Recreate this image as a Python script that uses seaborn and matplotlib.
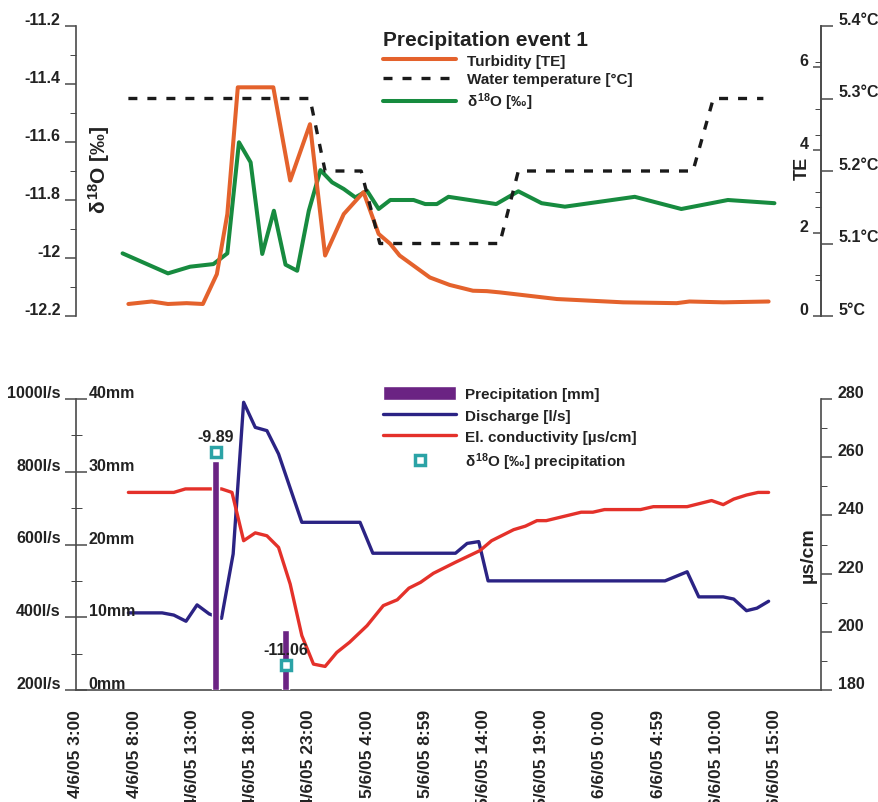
import numpy as np
import pandas as pd
import matplotlib
matplotlib.use('Agg')
import matplotlib.pyplot as plt
import seaborn as sns
from matplotlib.lines import Line2D
from matplotlib.patches import Patch
from matplotlib.ticker import FixedLocator, FixedFormatter
from matplotlib.transforms import ScaledTranslation

# time axis: hours since 4/6/05 3:00
x_ticks = [0, 5, 10, 15, 20, 25, 30, 35, 40, 45, 50, 55, 60]
x_minor = [2.5, 7.5, 12.5, 17.5, 22.5, 27.5, 32.5, 37.5, 42.5, 47.5, 52.5, 57.5, 62.5]
x_labels = ['4/6/05 3:00', '4/6/05 8:00', '4/6/05 13:00', '4/6/05 18:00',
            '4/6/05 23:00', '5/6/05 4:00', '5/6/05 8:59', '5/6/05 14:00',
            '5/6/05 19:00', '6/6/05 0:00', '6/6/05 4:59', '6/6/05 10:00',
            '6/6/05 15:00']

# top panel
turb_t = [4.5, 6.5, 7.9, 9.5, 10.9, 12.1, 13.0, 13.9, 16.95, 18.4, 20.1, 21.4,
          23.0, 24.7, 26.0, 27.0, 27.8, 30.4, 32.1, 34.1, 35.3, 36.4, 41.3,
          47.0, 51.6, 52.7, 55.6, 59.5]
turb = [0.29, 0.35, 0.29, 0.31, 0.29, 1.01, 2.46, 5.52, 5.52, 3.27, 4.63, 1.46,
        2.46, 2.99, 1.98, 1.74, 1.46, 0.93, 0.75, 0.61, 0.60, 0.57, 0.41,
        0.33, 0.31, 0.35, 0.33, 0.35]

temp_t = [4.5, 20.1, 21.4, 24.5, 26.1, 36.4, 38.0, 53.0, 54.75, 59.05]
temp = [5.3, 5.3, 5.2, 5.2, 5.1, 5.1, 5.2, 5.2, 5.3, 5.3]

d18_t = [4, 7.9, 9.8, 11.8, 13, 14, 15, 16, 17, 18, 19, 20, 21, 22, 23, 24, 25,
         26, 27, 29, 30, 31, 32, 36.1, 38, 40, 42, 48, 52, 56, 60]
d18 = [-11.984, -12.053, -12.030, -12.021, -11.984, -11.601, -11.670, -11.986,
       -11.837, -12.023, -12.044, -11.837, -11.697, -11.739, -11.762, -11.791,
       -11.768, -11.831, -11.800, -11.800, -11.814, -11.814, -11.789, -11.814,
       -11.770, -11.811, -11.823, -11.789, -11.831, -11.800, -11.811]

d18_ticks = [-12.2, -12, -11.8, -11.6, -11.4, -11.2]
d18_labels = ['-12.2', '-12', '-11.8', '-11.6', '-11.4', '-11.2']
te_ticks = [0, 2, 4, 6]
temp_ticks = [5.0, 5.1, 5.2, 5.3, 5.4]
temp_labels = ['5°C', '5.1°C', '5.2°C', '5.3°C', '5.4°C']

# bottom panel
q_t = [4.5, 7.4, 8.4, 9.45, 10.4, 11.45, 12.5, 13.5, 14.4, 15.4, 16.4, 17.4,
       19.4, 24.4, 25.5, 32.6, 33.6, 34.6, 35.4, 50.6, 52.5, 53.5, 55.6, 56.5,
       57.6, 58.5, 59.5]
q = [412, 412, 406, 389, 434, 409, 397, 574, 991, 922, 913, 849, 661, 661, 576,
     576, 603, 608, 500, 500, 525, 456, 456, 450, 418, 425, 444]

ec_t = [4.5, 8.4, 9.4, 12.5, 13.4, 14.4, 15.4, 16.4, 17.4, 18.4, 19.4, 20.4,
        21.4, 22.4, 23.5, 25.0, 26.4, 27.6, 28.6, 29.6, 30.7, 32.6, 34.7, 35.7,
        37.6, 38.6, 39.6, 40.4, 43.4, 44.4, 45.4, 48.5, 49.6, 52.5, 54.6, 55.6,
        56.5, 57.6, 58.6, 59.5]
ec = [247.9, 247.9, 249.1, 249.1, 247.9, 231.3, 234.0, 233.0, 229.0, 216.4,
      198.7, 188.9, 188.1, 192.9, 196.4, 202.1, 209.0, 211.0, 215.0, 217.0,
      220.1, 223.9, 227.9, 231.3, 235.1, 236.3, 238.2, 238.2, 241.1, 241.1,
      242.0, 242.0, 243.0, 243.0, 245.1, 243.7, 245.6, 247.0, 247.9, 247.9]

precip_t = [12.0, 18.0]
precip_mm = [31.5, 8.3]
iso_val = [-9.89, -11.06]

q_ticks = [200, 400, 600, 800, 1000]
q_labels = ['200l/s', '400l/s', '600l/s', '800l/s', '1000l/s']
mm_ticks = [0, 10, 20, 30, 40]
mm_labels = ['0mm', '10mm', '20mm', '30mm', '40mm']
ec_ticks = [180, 200, 220, 240, 260, 280]

ORANGE = '#E4622C'
GREEN = '#178B3F'
NAVY = '#2B2384'
RED = '#E4312A'
PURPLE = '#6B2383'
TEAL = '#2BA3A6'
AXC = '#4a4a4a'
TXT = '#222222'

sns.set_style('white')
plt.rcParams['font.family'] = ['Liberation Sans', 'DejaVu Sans']
plt.rcParams['font.weight'] = 'bold'
plt.rcParams['text.color'] = TXT
plt.rcParams['axes.unicode_minus'] = False
plt.rcParams['mathtext.fontset'] = 'custom'
plt.rcParams['mathtext.rm'] = 'Liberation Sans:bold'
plt.rcParams['mathtext.it'] = 'Liberation Sans:bold'
plt.rcParams['mathtext.bf'] = 'Liberation Sans:bold'

W, H = 879, 803
fig = plt.figure(figsize=(W / 100, H / 100), dpi=100)
ax_d = fig.add_axes([76 / W, 1 - 317 / H, 745 / W, 290 / H])
ax_b = fig.add_axes([76 / W, 1 - 691 / H, 745 / W, 291 / H])
ax_te = ax_d.twinx()
ax_tw = ax_d.twinx()
ax_c = ax_b.twinx()
ax_p = ax_b.twinx()
ax_i = ax_b.twinx()

# ---- top panel ----
sns.lineplot(x=d18_t, y=d18, ax=ax_d, color=GREEN, lw=2.9, sort=False, estimator=None)
sns.lineplot(x=turb_t, y=turb, ax=ax_te, color=ORANGE, lw=2.9, sort=False, estimator=None)
sns.lineplot(x=temp_t, y=temp, ax=ax_tw, color='#1a1a1a', lw=2.4, sort=False,
             estimator=None, linestyle=(0, (2.7, 3.0)))

for a in [ax_d, ax_te, ax_tw, ax_b, ax_c, ax_p, ax_i]:
    a.set_xlim(0, 64)
    for s in a.spines.values():
        s.set_visible(False)
        s.set_color(AXC)
        s.set_linewidth(1.2)
    a.set_xlabel('')
    a.set_ylabel('')
    a.tick_params(colors=AXC, labelcolor=TXT, width=1.1)

ax_d.set_ylim(-12.2, -11.2)
ax_d.spines['left'].set_visible(True)
ax_d.tick_params(axis='x', which='both', bottom=False, labelbottom=False)
ax_d.yaxis.set_major_locator(FixedLocator(d18_ticks))
ax_d.yaxis.set_major_formatter(FixedFormatter(d18_labels))
ax_d.yaxis.set_minor_locator(FixedLocator(np.arange(-12.1, -11.2, 0.2)))
ax_d.tick_params(axis='y', which='major', direction='out', length=8, labelsize=11.5, pad=3)
ax_d.tick_params(axis='y', which='minor', direction='out', length=4.5)

ax_te.set_ylim(0, 7)
ax_te.spines['left'].set_visible(True)
ax_te.spines['left'].set_position(('axes', 1.0))
ax_te.yaxis.set_ticks_position('left')
ax_te.yaxis.set_major_locator(FixedLocator(te_ticks))
ax_te.yaxis.set_minor_locator(FixedLocator([1, 3, 5]))
ax_te.tick_params(axis='y', which='major', direction='out', length=6, labelsize=11.5, pad=3)
ax_te.tick_params(axis='y', which='minor', direction='out', length=4.5)

ax_tw.set_ylim(5.0, 5.4)
ax_tw.spines['right'].set_visible(True)
ax_tw.yaxis.set_major_locator(FixedLocator(temp_ticks))
ax_tw.yaxis.set_major_formatter(FixedFormatter(temp_labels))
ax_tw.yaxis.set_minor_locator(FixedLocator([5.05, 5.15, 5.25, 5.35]))
ax_tw.tick_params(axis='y', which='major', direction='out', length=8.5, labelsize=11.5, pad=4)
ax_tw.tick_params(axis='y', which='minor', direction='in', length=4.5)

ax_d.text(0.031, 0.507, r'$\delta^{18}$O [‰]', transform=ax_d.transAxes, rotation=90,
          ha='center', va='center', fontsize=15, fontweight='bold')
ax_d.text(0.9745, 0.514, 'TE', transform=ax_d.transAxes, rotation=90,
          ha='center', va='center', fontsize=13, fontweight='bold')

# ---- bottom panel ----
sns.lineplot(x=q_t, y=q, ax=ax_b, color=NAVY, lw=2.4, sort=False, estimator=None)
sns.lineplot(x=ec_t, y=ec, ax=ax_c, color=RED, lw=2.4, sort=False, estimator=None)
ax_p.bar(precip_t, precip_mm, width=0.6, color=PURPLE, zorder=3)
ax_i.plot(precip_t, iso_val, ls='none', marker='s', ms=7, mfc='white', mec=TEAL, mew=2.5,
          zorder=5)
for t, v in zip(precip_t, iso_val):
    ax_i.annotate(f'{v:.2f}', xy=(t, v), xytext=(0, 5.5), textcoords='offset points',
                  ha='center', va='bottom', fontsize=11.5, fontweight='bold')

ax_b.set_ylim(200, 1000)
ax_b.spines['left'].set_visible(True)
ax_b.spines['bottom'].set_visible(True)
ax_b.yaxis.set_major_locator(FixedLocator(q_ticks))
ax_b.yaxis.set_major_formatter(FixedFormatter(q_labels))
ax_b.yaxis.set_minor_locator(FixedLocator([300, 500, 700, 900]))
ax_b.tick_params(axis='y', which='major', direction='out', length=8, labelsize=11.5, pad=3)
ax_b.tick_params(axis='y', which='minor', direction='out', length=3.5)
ax_b.xaxis.set_major_locator(FixedLocator(x_ticks))
ax_b.xaxis.set_major_formatter(FixedFormatter(x_labels))
ax_b.xaxis.set_minor_locator(FixedLocator(x_minor))
ax_b.tick_params(axis='x', which='major', direction='out', length=7.5, labelsize=12.5,
                 pad=6, labelrotation=90)
ax_b.tick_params(axis='x', which='minor', direction='out', length=4)

ax_c.set_ylim(180, 280)
ax_c.spines['right'].set_visible(True)
ax_c.yaxis.set_major_locator(FixedLocator(ec_ticks))
ax_c.yaxis.set_minor_locator(FixedLocator([190, 210, 230, 250, 270]))
ax_c.tick_params(axis='y', which='major', direction='out', length=8, labelsize=11.5, pad=4)
ax_c.tick_params(axis='y', which='minor', direction='out', length=4.5)
ax_c.text(0.9826, 0.467, 'µs/cm', transform=ax_c.transAxes, rotation=90,
          ha='center', va='center', fontsize=14, fontweight='bold')

ax_p.set_ylim(0, 40)
ax_p.spines['right'].set_position(('axes', 0.0))
ax_p.yaxis.set_major_locator(FixedLocator(mm_ticks))
ax_p.yaxis.set_major_formatter(FixedFormatter(mm_labels))
ax_p.yaxis.set_minor_locator(FixedLocator([5, 15, 25, 35]))
ax_p.tick_params(axis='y', which='major', direction='out', length=8, labelsize=11.5, pad=1)
ax_p.tick_params(axis='y', which='minor', direction='out', length=4)

ax_i.set_ylim(-11.2, -9.6)
ax_i.set_yticks([])

# ---- legends ----
top_handles = [Line2D([], [], color=ORANGE, lw=2.9),
               Line2D([], [], color='#1a1a1a', lw=2.4, ls=(0, (2.7, 3.0))),
               Line2D([], [], color=GREEN, lw=2.9)]
top_labels = ['Turbidity [TE]', 'Water temperature [°C]', r'$\delta^{18}$O [‰]']
fig.legend(top_handles, top_labels, loc='upper left', bbox_to_anchor=(383 / W, 1 - 31 / H),
           frameon=False, title='Precipitation event 1',
           title_fontproperties={'weight': 'bold', 'size': 15},
           prop={'weight': 'bold', 'size': 11}, handlelength=4.8, handletextpad=0.7,
           labelspacing=0.3, borderpad=0, borderaxespad=0, alignment='left')

bot_handles = [Patch(facecolor=PURPLE),
               Line2D([], [], color=NAVY, lw=2.4),
               Line2D([], [], color=RED, lw=2.4),
               Line2D([], [], ls='none', marker='s', ms=7, mfc='white', mec=TEAL, mew=2.5)]
bot_labels = ['Precipitation [mm]', 'Discharge [l/s]', 'El. conductivity [µs/cm]',
              r'$\delta^{18}$O [‰] precipitation']
fig.legend(bot_handles, bot_labels, loc='upper left', bbox_to_anchor=(383 / W, 1 - 387 / H),
           frameon=False, prop={'weight': 'bold', 'size': 11}, handlelength=4.8,
           handleheight=1.0, handletextpad=0.6, labelspacing=0.42, borderpad=0,
           borderaxespad=0)

# tick labels sit a little above their ticks in the original
fig.canvas.draw()
off = ScaledTranslation(0, 0.08, fig.dpi_scale_trans)
for a in [ax_d, ax_te, ax_tw, ax_b, ax_c, ax_p]:
    for lbl in a.get_yticklabels():
        lbl.set_transform(lbl.get_transform() + off)

fig.savefig('out.png', dpi=100)
